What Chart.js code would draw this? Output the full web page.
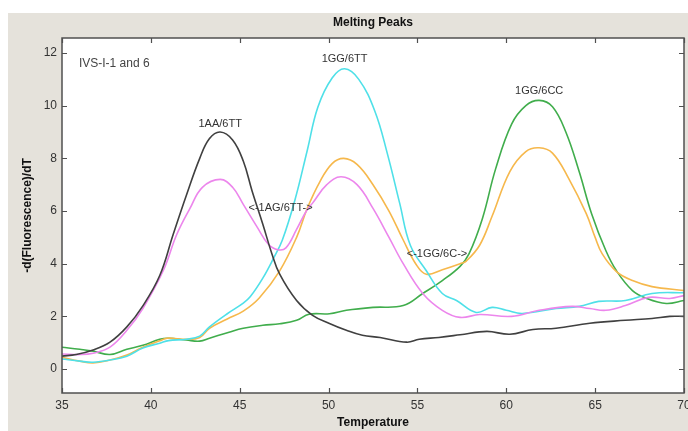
<!DOCTYPE html>
<html>
<head>
<meta charset="utf-8">
<script src="https://cdn.jsdelivr.net/npm/chart.js@4/dist/chart.umd.min.js"></script>
<style>
html,body{margin:0;padding:0;background:#fff;}
canvas{display:block;}
</style>
</head>
<body>
<canvas id="c" width="688" height="431"></canvas>
<script>
// ---- data (temperature in °C, value = -d(Fluorescence)/dT) ----
const seriesNames = ['1AA/6TT', '1AG/6TT', '1GG/6TT', '1GG/6C', '1GG/6CC'];

const blackT = [35, 35.8, 36.75, 37.7, 38.65, 39.55, 40.5, 41.25, 42.0, 42.75, 43.3, 43.9, 44.6, 45.2, 45.7, 46.3, 46.8, 47.25, 48.2, 49.1, 50.05, 51.0, 51.9, 52.9, 54.4, 55.1, 56.2, 57.4, 58.9, 60.2, 61.5, 62.8, 64.7, 66.7, 68.2, 69.2, 70];
const blackV = [0.49, 0.55, 0.72, 1.02, 1.6, 2.4, 3.55, 5.1, 6.6, 8.0, 8.75, 9.0, 8.7, 7.9, 6.75, 5.5, 4.4, 3.6, 2.6, 2.04, 1.73, 1.47, 1.28, 1.2, 1.02, 1.13, 1.2, 1.3, 1.43, 1.32, 1.5, 1.55, 1.74, 1.85, 1.92, 2.0, 2.0];

const magentaT = [35, 36, 36.75, 37.7, 38.65, 39.55, 40.7, 41.45, 42.2, 42.9, 43.9, 44.6, 45.2, 46.0, 46.6, 47.15, 47.6, 48.2, 48.75, 49.1, 49.9, 50.7, 51.6, 52.5, 53.4, 54.2, 55.3, 56.4, 57.4, 58.5, 60.3, 61.85, 63.7, 64.7, 65.6, 66.7, 68.0, 69.2, 70];
const magentaV = [0.57, 0.55, 0.6, 0.83, 1.47, 2.3, 3.74, 5.1, 6.1, 6.9, 7.2, 6.9, 6.25, 5.37, 4.75, 4.53, 4.6, 5.3, 6.0, 6.3, 7.0, 7.3, 7.0, 6.1, 5.0, 4.0, 2.87, 2.23, 1.96, 2.07, 2.0, 2.23, 2.38, 2.3, 2.23, 2.41, 2.72, 2.68, 2.79];

const cyanT = [35, 36, 36.75, 37.7, 38.65, 39.55, 40.5, 41.0, 42.0, 42.75, 43.3, 44.3, 45.2, 45.6, 46.3, 46.9, 47.4, 48.1, 48.8, 49.4, 50.2, 50.9, 51.7, 52.6, 53.3, 54.0, 54.6, 55.5, 56.4, 57.2, 58.3, 59.2, 60.0, 60.9, 62.8, 64.1, 65.2, 66.7, 68.2, 70];
const cyanV = [0.38, 0.3, 0.26, 0.34, 0.49, 0.8, 0.98, 1.08, 1.13, 1.25, 1.6, 2.1, 2.5, 2.75, 3.45, 4.2, 4.9, 6.4, 8.3, 9.95, 11.05, 11.4, 11.0, 9.8, 8.2, 6.3, 4.7, 3.73, 2.87, 2.6, 2.15, 2.34, 2.23, 2.11, 2.3, 2.38, 2.57, 2.6, 2.87, 2.9];

const orangeT = [35, 36, 36.75, 37.7, 38.65, 39.55, 40.5, 40.9, 42.0, 42.75, 43.3, 44.3, 45.2, 46.1, 47.25, 48.2, 48.8, 49.5, 50.2, 50.85, 51.6, 52.5, 53.4, 54.2, 54.9, 55.5, 56.4, 57.4, 57.75, 58.5, 59.2, 60.2, 61.1, 61.85, 62.6, 63.5, 64.5, 65.0, 65.4, 66.2, 67.1, 68.2, 70];
const orangeV = [0.45, 0.3, 0.23, 0.34, 0.53, 0.83, 1.07, 1.17, 1.13, 1.2, 1.55, 1.9, 2.2, 2.7, 3.73, 5.0, 6.1, 7.1, 7.8, 8.0, 7.77, 7.0, 6.0, 4.9, 4.0, 3.6, 3.77, 4.0, 4.1, 4.7, 5.8, 7.5, 8.26, 8.4, 8.2, 7.25, 5.9, 5.0, 4.37, 3.7, 3.36, 3.13, 2.98];

const greenT = [35, 36, 36.75, 37.7, 38.65, 39.55, 40.5, 41.0, 42.0, 42.75, 43.3, 44.4, 45.2, 46.3, 47.25, 48.2, 48.9, 50.05, 51.0, 52.5, 54.2, 55.3, 56.4, 57.4, 57.9, 58.65, 59.4, 60.3, 61.1, 61.85, 62.6, 63.35, 64.1, 64.8, 65.6, 66.2, 67.1, 67.9, 69.0, 70];
const greenV = [0.83, 0.75, 0.68, 0.55, 0.75, 0.9, 1.13, 1.17, 1.1, 1.06, 1.17, 1.4, 1.55, 1.66, 1.72, 1.85, 2.08, 2.1, 2.23, 2.34, 2.41, 2.87, 3.36, 3.9, 4.37, 5.7, 7.6, 9.3, 10.0, 10.2, 9.96, 9.0, 7.5, 5.9, 4.5, 3.73, 2.98, 2.68, 2.49, 2.6];

const xTicks = [35, 40, 45, 50, 55, 60, 65, 70];
const yTicks = [0, 2, 4, 6, 8, 10, 12];

// in-plot text labels (data coordinates)
const noteTexts = ['IVS-I-1 and 6', '1AA/6TT', '1GG/6TT', '1GG/6CC', '<-1AG/6TT->', '<-1GG/6C->'];
const noteT = [35.95, 43.9, 50.9, 61.85, 47.3, 56.1];
const noteV = [11.58, 9.3, 11.77, 10.57, 6.11, 4.38];

// ---- chart ----
const colors = ['#404040', '#ec86ec', '#4fe0e8', '#f6b84c', '#40ad4c'];
const seriesT = [blackT, magentaT, cyanT, orangeT, greenT];
const seriesV = [blackV, magentaV, cyanV, orangeV, greenV];

const datasets = seriesNames.map((name, k) => ({
  label: name,
  data: seriesT[k].map((t, i) => ({x: t, y: seriesV[k][i]})),
  borderColor: colors[k],
  borderWidth: 1.6,
  pointRadius: 0,
  fill: false,
  tension: 0.4
}));

const FONT = '"Liberation Sans", Arial, sans-serif';

const framePlugin = {
  id: 'frame',
  beforeDraw(chart) {
    const c = chart.ctx, a = chart.chartArea;
    c.save();
    c.fillStyle = '#ffffff';
    c.fillRect(0, 0, chart.width, chart.height);
    c.fillStyle = '#e5e2db';
    c.fillRect(8, 13, chart.width - 8, chart.height - 13);
    c.fillStyle = '#ffffff';
    c.fillRect(a.left, a.top, a.right - a.left, a.bottom - a.top);
    c.restore();
  },
  afterDraw(chart) {
    const c = chart.ctx, a = chart.chartArea;
    const xs = chart.scales.x, ys = chart.scales.y;
    c.save();
    c.strokeStyle = '#505050';
    c.lineWidth = 1.5;
    c.strokeRect(a.left, a.top, a.right - a.left, a.bottom - a.top);
    c.lineWidth = 1.2;
    c.beginPath();
    xTicks.forEach(v => {
      const px = Math.round(xs.getPixelForValue(v)) + 0.5;
      c.moveTo(px, a.bottom); c.lineTo(px, a.bottom - 5);
      c.moveTo(px, a.top); c.lineTo(px, a.top + 5);
    });
    yTicks.forEach(v => {
      const py = Math.round(ys.getPixelForValue(v)) + 0.5;
      c.moveTo(a.left, py); c.lineTo(a.left + 5, py);
      c.moveTo(a.right, py); c.lineTo(a.right - 5, py);
    });
    c.stroke();

    // titles
    const cx = (a.left + a.right) / 2;
    c.fillStyle = '#111';
    c.textAlign = 'center';
    c.textBaseline = 'middle';
    c.font = 'bold 12px ' + FONT;
    c.fillText('Melting Peaks', cx, 23);
    c.fillText('Temperature', cx, 423);
    c.save();
    c.translate(28, (a.top + a.bottom) / 2);
    c.rotate(-Math.PI / 2);
    c.fillText('-d(Fluorescence)/dT', 0, 0);
    c.restore();

    // notes
    noteTexts.forEach((t, i) => {
      const px = xs.getPixelForValue(noteT[i]);
      const py = ys.getPixelForValue(noteV[i]);
      if (i === 0) {
        c.font = '12px ' + FONT;
        c.fillStyle = '#444';
        c.textAlign = 'left';
      } else {
        c.font = '11px ' + FONT;
        c.fillStyle = '#333';
        c.textAlign = 'center';
      }
      c.fillText(t, px, py);
    });
    c.restore();
  }
};

new Chart(document.getElementById('c'), {
  type: 'line',
  data: {datasets},
  options: {
    responsive: false,
    animation: false,
    devicePixelRatio: 1,
    layout: {padding: {left: 0, top: 38, right: 4, bottom: 0}},
    plugins: {legend: {display: false}, tooltip: {enabled: false}, title: {display: false}},
    scales: {
      x: {
        type: 'linear', min: 35, max: 70,
        grid: {display: false, drawTicks: false},
        border: {display: false},
        afterBuildTicks: s => { s.ticks = xTicks.map(v => ({value: v})); },
        afterFit: s => { s.height = 38; s.paddingRight = 0; s.paddingLeft = 0; },
        ticks: {padding: 5, color: '#333', font: {family: FONT, size: 12}, maxRotation: 0, autoSkip: false}
      },
      y: {
        type: 'linear', min: -0.91, max: 12.57,
        grid: {display: false, drawTicks: false},
        border: {display: false},
        afterBuildTicks: s => { s.ticks = yTicks.map(v => ({value: v})); },
        afterFit: s => { s.width = 62; s.paddingTop = 0; s.paddingBottom = 0; },
        ticks: {padding: 5, color: '#333', font: {family: FONT, size: 12}}
      }
    }
  },
  plugins: [framePlugin]
});
</script>
</body>
</html>
